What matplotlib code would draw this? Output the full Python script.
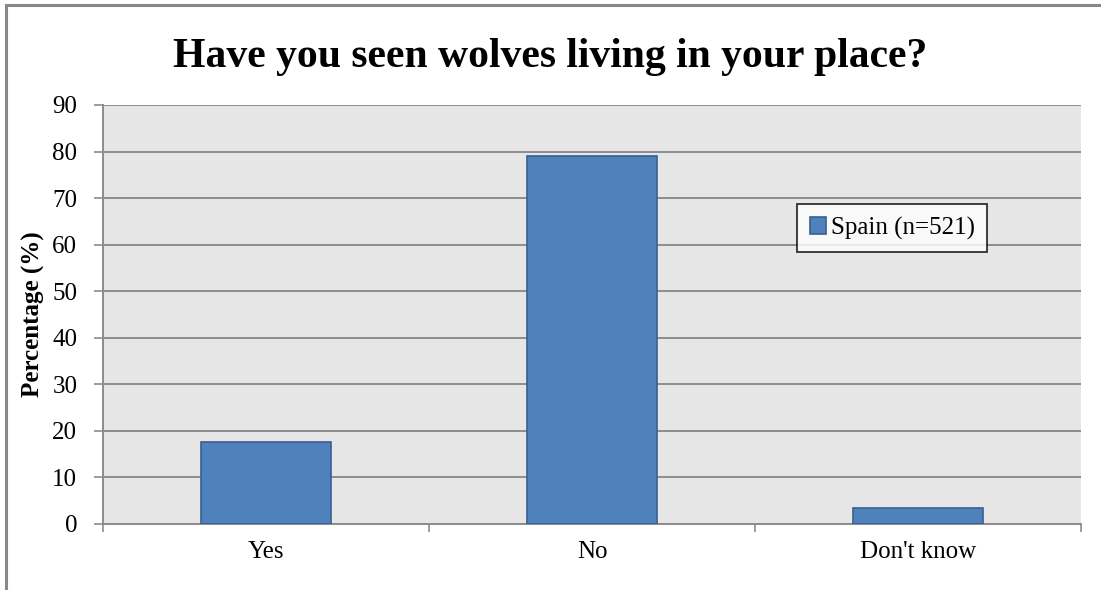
import matplotlib
matplotlib.use("Agg")
import matplotlib.pyplot as plt
from matplotlib.lines import Line2D

categories = ["Yes", "No", "Don't know"]
values = [17.6, 79.0, 3.4]
series_name = "Spain (n=521)"
title = "Have you seen wolves living in your place?"
ylabel = "Percentage (%)"
yticks = [0, 10, 20, 30, 40, 50, 60, 70, 80, 90]

plt.rcParams['font.family'] = ['Liberation Serif', 'DejaVu Serif']

W, H = 1101, 590
fig = plt.figure(figsize=(W/100, H/100), dpi=100)
ax = fig.add_axes([103/W, 1-524/H, (1081-103)/W, (524-105)/H])
ax.set_facecolor('#e6e6e6')

x = list(range(len(categories)))
ax.bar(x, values, width=0.40, color='#4f81bd', edgecolor='#3a5f8f', linewidth=1.2,
       label=series_name, zorder=3)
ax.set_xlim(-0.5, len(categories)-0.5)
ax.set_ylim(0, 90)
ax.set_yticks(yticks)
ax.set_yticklabels([str(t) for t in yticks], fontsize=18)
ax.yaxis.grid(True, color='#8c8c8c', linewidth=1.4, zorder=1)
ax.set_axisbelow(True)

ax.set_xticks([i - 0.5 for i in range(len(categories)+1)], minor=False)
ax.set_xticklabels([])
ax.set_xticks(x, minor=True)
ax.set_xticklabels(categories, minor=True, fontsize=18)
ax.tick_params(axis='x', which='minor', length=0, pad=12)
ax.tick_params(axis='x', which='major', length=6, color='#8c8c8c', width=1.2)
ax.tick_params(axis='y', length=6.5, color='#8c8c8c', width=1.2, pad=12)

for s in ['top', 'right', 'left']:
    ax.spines[s].set_visible(False)
ax.spines['bottom'].set_color('#8c8c8c')
ax.spines['bottom'].set_linewidth(1.4)
ax.plot([-0.5, -0.5], [0, 90], color='#8c8c8c', linewidth=1.4, clip_on=False, zorder=2)

ax.set_ylabel(ylabel, fontsize=18, fontweight='bold', labelpad=5)
fig.text(0.5, 1-57/H, title, ha='center', va='center', fontsize=30, fontweight='bold')

leg = ax.legend(loc='upper left', bbox_to_anchor=((797-103)/(1081-103), 1-(204-105)/(524-105)),
                frameon=True, fancybox=False, fontsize=18, handlelength=0.65, handleheight=0.65,
                handletextpad=0.2, borderpad=0.5, borderaxespad=0)
leg.get_frame().set_edgecolor('black')
leg.get_frame().set_linewidth(1.3)
leg.get_frame().set_facecolor('white')

# outer chart border (top and left visible)
fig.lines.append(Line2D([6/W, 1.0], [1-5/H, 1-5/H], transform=fig.transFigure,
                        color='#888888', linewidth=2.2))
fig.lines.append(Line2D([6/W, 6/W], [0, 1-5/H], transform=fig.transFigure,
                        color='#888888', linewidth=2.2))

fig.savefig('out.png', dpi=100)
